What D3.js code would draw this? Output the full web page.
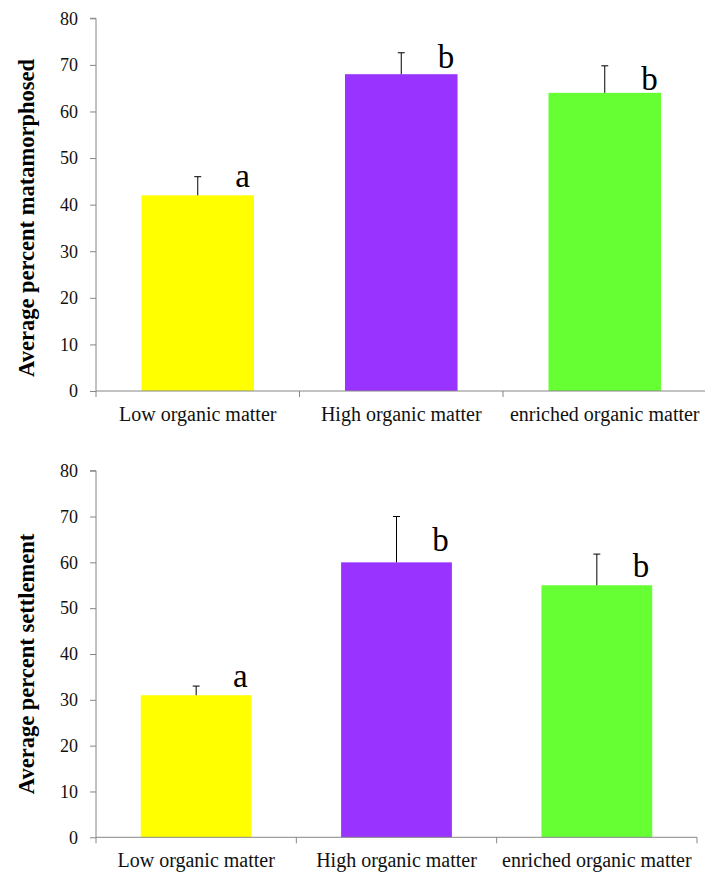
<!DOCTYPE html>
<html>
<head>
<meta charset="utf-8">
<script src="https://cdn.jsdelivr.net/npm/d3@7"></script>
<style>
  html, body { margin: 0; padding: 0; background: #fff; }
  svg { display: block; }
  text { font-family: "Liberation Serif", "Times New Roman", serif; }
</style>
</head>
<body>
<svg id="chart" width="705" height="875"></svg>
<script>
// ---- data ----
const categories = ["Low organic matter", "High organic matter", "enriched organic matter"];
const colors = ["#FFFF00", "#9933FF", "#66FF33"];
const yTicks = [0, 10, 20, 30, 40, 50, 60, 70, 80];

const metamorphMean = [42, 68, 64];
const metamorphErr = [4, 4.6, 5.8];
const metamorphLetters = ["a", "b", "b"];
const metamorphLetterAt = [43.8, 69.3, 64.7];

const settleMean = [31, 60, 55];
const settleErr = [2, 10, 6.8];
const settleLetters = ["a", "b", "b"];
const settleLetterAt = [32.9, 62.5, 56.7];

const svg = d3.select("#chart");

function panel(cfg) {
  const g = svg.append("g");
  const x = d3.scaleBand().domain(categories).range([cfg.left, cfg.right]).padding(0);
  const y = d3.scaleLinear().domain([0, 80]).range([cfg.bottom, cfg.top]);
  const barW = x.bandwidth() * 0.553;

  // bars
  g.selectAll("rect.bar").data(categories).enter().append("rect")
    .attr("class", "bar")
    .attr("x", (d) => x(d) + x.bandwidth() / 2 - barW / 2)
    .attr("width", barW)
    .attr("y", (d, i) => y(cfg.mean[i]))
    .attr("height", (d, i) => y(0) - y(cfg.mean[i]))
    .attr("fill", (d, i) => colors[i]);

  // error bars (upper only)
  const eb = g.selectAll("g.err").data(categories).enter().append("g").attr("class", "err");
  eb.append("line")
    .attr("x1", (d) => x(d) + x.bandwidth() / 2)
    .attr("x2", (d) => x(d) + x.bandwidth() / 2)
    .attr("y1", (d, i) => y(cfg.mean[i]))
    .attr("y2", (d, i) => y(cfg.mean[i] + cfg.err[i]))
    .attr("stroke", "#000").attr("stroke-width", 1);
  eb.append("line")
    .attr("x1", (d) => x(d) + x.bandwidth() / 2 - 3.5)
    .attr("x2", (d) => x(d) + x.bandwidth() / 2 + 3.5)
    .attr("y1", (d, i) => y(cfg.mean[i] + cfg.err[i]))
    .attr("y2", (d, i) => y(cfg.mean[i] + cfg.err[i]))
    .attr("stroke", "#000").attr("stroke-width", 1);

  // significance letters
  g.selectAll("text.letter").data(categories).enter().append("text")
    .attr("class", "letter")
    .attr("x", (d) => x(d) + x.bandwidth() / 2 + x.bandwidth() * 0.22)
    .attr("y", (d, i) => y(cfg.letterAt[i]))
    .attr("text-anchor", "middle")
    .attr("font-size", 33)
    .attr("fill", "#000")
    .text((d, i) => cfg.letters[i]);

  // y axis
  const ya = g.append("g")
    .attr("transform", `translate(${cfg.left},0)`)
    .call(d3.axisLeft(y).tickValues(yTicks).tickSize(6).tickPadding(12).tickFormat(d3.format("d")));
  ya.select(".domain").attr("stroke", "#868686").attr("d", `M-6,${y(80)}H0V${y(0)}`);
  ya.selectAll(".tick line").attr("stroke", "#868686");
  ya.selectAll(".tick text").attr("font-size", 18).attr("fill", "#111")
    .attr("font-family", "Liberation Serif, Times New Roman, serif");

  // x axis
  const xa = g.append("g")
    .attr("transform", `translate(0,${cfg.bottom})`)
    .call(d3.axisBottom(x).tickSize(0).tickPadding(0));
  xa.select(".domain").attr("stroke", "#868686").attr("d", `M${cfg.left},0H${cfg.right}`);
  xa.selectAll(".tick text").attr("font-size", 20).attr("fill", "#111")
    .attr("dy", null).attr("y", 30)
    .attr("font-family", "Liberation Serif, Times New Roman, serif");
  // boundary ticks between categories
  const bounds = categories.map((c) => x(c)).concat([cfg.right]);
  xa.selectAll("line.bound").data(bounds).enter().append("line")
    .attr("class", "bound")
    .attr("x1", (d) => d).attr("x2", (d) => d)
    .attr("y1", 0).attr("y2", 6)
    .attr("stroke", "#868686");

  // y title
  g.append("text")
    .attr("transform", `translate(${cfg.titleX},${cfg.titleY}) rotate(-90)`)
    .attr("text-anchor", "middle")
    .attr("dominant-baseline", "central")
    .attr("font-size", 22.5)
    .attr("font-weight", "bold")
    .attr("fill", "#000")
    .text(cfg.title);
}

panel({
  left: 96, right: 706.5, top: 18.3, bottom: 391,
  mean: metamorphMean, err: metamorphErr, letters: metamorphLetters, letterAt: metamorphLetterAt,
  title: "Average percent matamorphosed", titleX: 26, titleY: 218
});

panel({
  left: 96, right: 697, top: 470.7, bottom: 837.3,
  mean: settleMean, err: settleErr, letters: settleLetters, letterAt: settleLetterAt,
  title: "Average percent  settlement", titleX: 26, titleY: 664
});
</script>
</body>
</html>
